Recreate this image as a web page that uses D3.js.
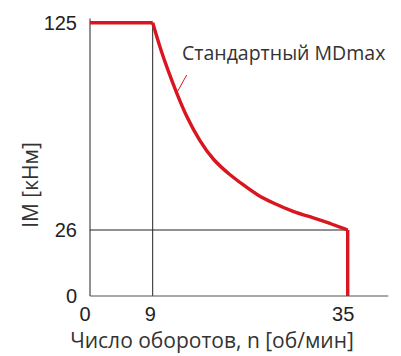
<!DOCTYPE html>
<html>
<head>
<meta charset="utf-8">
<script src="https://cdn.jsdelivr.net/npm/d3@7"></script>
<style>
  html, body { margin: 0; padding: 0; background: #fff; }
  svg { display: block; }
</style>
</head>
<body>
<div id="chart"></div>
<script>
(function(){
    'use strict';

    // speed [rpm] / torque [kNm]
    var plateauN = [0, 9];
    var plateauM = [125, 125];
    var curveN = [9, 10, 11.1, 12.2, 13.5, 15.3, 17.1, 19.3, 21.1, 22.9, 25.1, 27.7, 30.4, 32.6, 35];
    var curveM = [125, 112.8, 101.6, 91.3, 80.1, 68.2, 59.2, 52.3, 47.5, 42.7, 38.8, 34.7, 31.9, 29.2, 26];
    var dropN = [35, 35];
    var dropM = [26, 0];

    var xTicks = [0, 9, 35];
    var yTicks = [0, 26, 125];
    var xTitle = 'Число оборотов, n [об/мин]';
    var yTitle = 'IM [кНм]';
    var seriesLabel = 'Стандартный MDmax';

    var width = 401, height = 356;
    var red = '#d9161f', ink = '#222';

    // the original axes are not evenly spaced, so use piecewise scales
    var x = d3.scaleLinear().domain([0, 9, 35]).range([90, 152.7, 347.7]);
    var y = d3.scaleLinear().domain([0, 26, 125]).range([296, 230, 22.7]);

    var svg = d3.select('#chart').append('svg')
        .attr('width', width)
        .attr('height', height);

    function pts(ns, ms) {
        return ns.map(function (n, i) { return [n, ms[i]]; });
    }

    // guide lines
    svg.append('line')
        .attr('x1', x(9)).attr('x2', x(9))
        .attr('y1', y(125)).attr('y2', y(0))
        .attr('stroke', ink).attr('stroke-width', 1);
    svg.append('line')
        .attr('x1', x(0)).attr('x2', x(35))
        .attr('y1', y(26)).attr('y2', y(26))
        .attr('stroke', ink).attr('stroke-width', 1);

    // axis lines
    svg.append('line')
        .attr('x1', x(0)).attr('x2', x(0))
        .attr('y1', y(127)).attr('y2', y(0))
        .attr('stroke', ink).attr('stroke-width', 1);
    svg.append('line')
        .attr('x1', x(0)).attr('x2', x(40.4))
        .attr('y1', y(0)).attr('y2', y(0))
        .attr('stroke', '#555').attr('stroke-width', 1.2);

    var straight = d3.line()
        .x(function (d) { return x(d[0]); })
        .y(function (d) { return y(d[1]); });
    var smooth = d3.line()
        .x(function (d) { return x(d[0]); })
        .y(function (d) { return y(d[1]); })
        .curve(d3.curveBasis);

    var g = svg.append('g')
        .attr('fill', 'none')
        .attr('stroke', red)
        .attr('stroke-width', 3.4)
        .attr('stroke-linejoin', 'round');

    g.append('path').attr('d', straight(pts(plateauN, plateauM)));
    g.append('path').attr('d', smooth(pts(curveN, curveM)));
    g.append('path').attr('d', straight(pts(dropN, dropM)));

    // leader for the series label
    svg.append('line')
        .attr('x1', 186.7).attr('y1', 75)
        .attr('x2', 177.5).attr('y2', 91.5)
        .attr('stroke', red).attr('stroke-width', 1);

    svg.append('text')
        .attr('x', 182).attr('y', 60)
        .attr('font-family', '"Open Sans", sans-serif')
        .attr('font-size', 19.5)
        .attr('fill', '#333')
        .text(seriesLabel);

    // tick labels
    svg.append('g')
        .attr('font-family', '"Liberation Sans", Arial, sans-serif')
        .attr('font-size', 20)
        .attr('fill', ink)
        .attr('text-anchor', 'end')
        .selectAll('text')
        .data(yTicks)
        .enter().append('text')
        .attr('x', 77)
        .attr('y', function (d) { return y(d); })
        .attr('dy', '0.36em')
        .text(function (d) { return d; });

    svg.append('g')
        .attr('font-family', '"Liberation Sans", Arial, sans-serif')
        .attr('font-size', 20)
        .attr('fill', ink)
        .attr('text-anchor', 'middle')
        .selectAll('text')
        .data(xTicks)
        .enter().append('text')
        .attr('x', function (d) { return x(d); })
        .attr('dx', function (d) { return d === 0 ? -5 : (d === 35 ? -4.5 : -2.5); })
        .attr('y', 321)
        .text(function (d) { return d; });

    // axis titles
    svg.append('text')
        .attr('x', 212).attr('y', 348)
        .attr('text-anchor', 'middle')
        .attr('font-family', '"Open Sans", sans-serif')
        .attr('font-size', 21)
        .attr('fill', '#333')
        .text(xTitle);

    svg.append('text')
        .attr('transform', 'translate(37.5,185) rotate(-90)')
        .attr('text-anchor', 'middle')
        .attr('font-family', '"Open Sans", sans-serif')
        .attr('font-size', 21)
        .attr('fill', '#333')
        .text(yTitle);
})();
</script>
</body>
</html>
